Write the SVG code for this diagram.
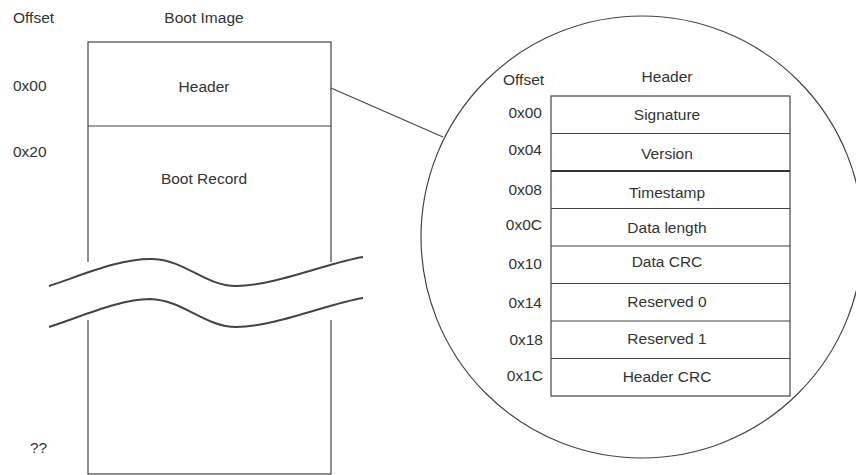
<svg xmlns="http://www.w3.org/2000/svg" width="856" height="475" viewBox="0 0 856 475">
<style>
text{font-family:"Liberation Sans",Arial,sans-serif;font-size:15.5px;fill:#333}
.c{text-anchor:middle}
.r{text-anchor:end}
.ln{fill:none;stroke:#444;stroke-width:1.2}
.wv{fill:none;stroke:#444;stroke-width:2}
</style>
<rect width="856" height="475" fill="#fff"/>
<g id="labels">
<text x="13" y="23">Offset</text>
<text x="204" y="23" class="c">Boot Image</text>
<text x="13" y="91">0x00</text>
<text x="13" y="157">0x20</text>
<text x="30" y="453">??</text>
</g>
<g id="boot-image">
<rect x="88" y="42" width="243" height="432" class="ln"/>
<line x1="88" y1="126" x2="331" y2="126" class="ln"/>
<text x="204" y="92" class="c">Header</text>
<text x="204" y="184" class="c">Boot Record</text>
</g>
<g id="break">
<path d="M0 0" fill="none"/>
<rect x="49" y="262" width="315" height="58" fill="#fff" stroke="none"/>
<path class="wv" d="M49 286 C80 276 120 258 153 259 C185 260 205 286 236 286 C275 286 330 262 363 257"/>
<path class="wv" d="M49 327 C80 317 120 299 150 299 C183 300 205 327 236 327 C275 327 330 303 363 298"/>
</g>
<g id="connectors">
<line x1="331" y1="88" x2="443" y2="137" class="ln"/>
</g>
<g id="zoom-circle">
<circle cx="642" cy="237" r="221" class="ln"/>
</g>
<g id="header-table">
<text x="503" y="85">Offset</text>
<text x="667" y="82" class="c">Header</text>
<rect x="551" y="96" width="239" height="300" class="ln"/>
<line x1="551" y1="133.5" x2="790" y2="133.5" class="ln"/>
<line x1="551" y1="171" x2="790" y2="171" stroke="#333" stroke-width="2"/>
<line x1="551" y1="208.5" x2="790" y2="208.5" class="ln"/>
<line x1="551" y1="246" x2="790" y2="246" class="ln"/>
<line x1="551" y1="283.5" x2="790" y2="283.5" class="ln"/>
<line x1="551" y1="321" x2="790" y2="321" class="ln"/>
<line x1="551" y1="358.5" x2="790" y2="358.5" class="ln"/>
<g id="row-0x00"><text x="542" y="118" class="r">0x00</text><text x="667" y="120" class="c">Signature</text></g>
<g id="row-0x04"><text x="542" y="155" class="r">0x04</text><text x="667" y="159" class="c">Version</text></g>
<g id="row-0x08"><text x="542" y="195" class="r">0x08</text><text x="667" y="198" class="c">Timestamp</text></g>
<g id="row-0x0C"><text x="542" y="230" class="r">0x0C</text><text x="667" y="233" class="c">Data length</text></g>
<g id="row-0x10"><text x="542" y="269" class="r">0x10</text><text x="667" y="267" class="c">Data CRC</text></g>
<g id="row-0x14"><text x="542" y="308" class="r">0x14</text><text x="667" y="307" class="c">Reserved 0</text></g>
<g id="row-0x18"><text x="543" y="345" class="r">0x18</text><text x="667" y="344" class="c">Reserved 1</text></g>
<g id="row-0x1C"><text x="543" y="381" class="r">0x1C</text><text x="667" y="382" class="c">Header CRC</text></g>
</g>
</svg>
